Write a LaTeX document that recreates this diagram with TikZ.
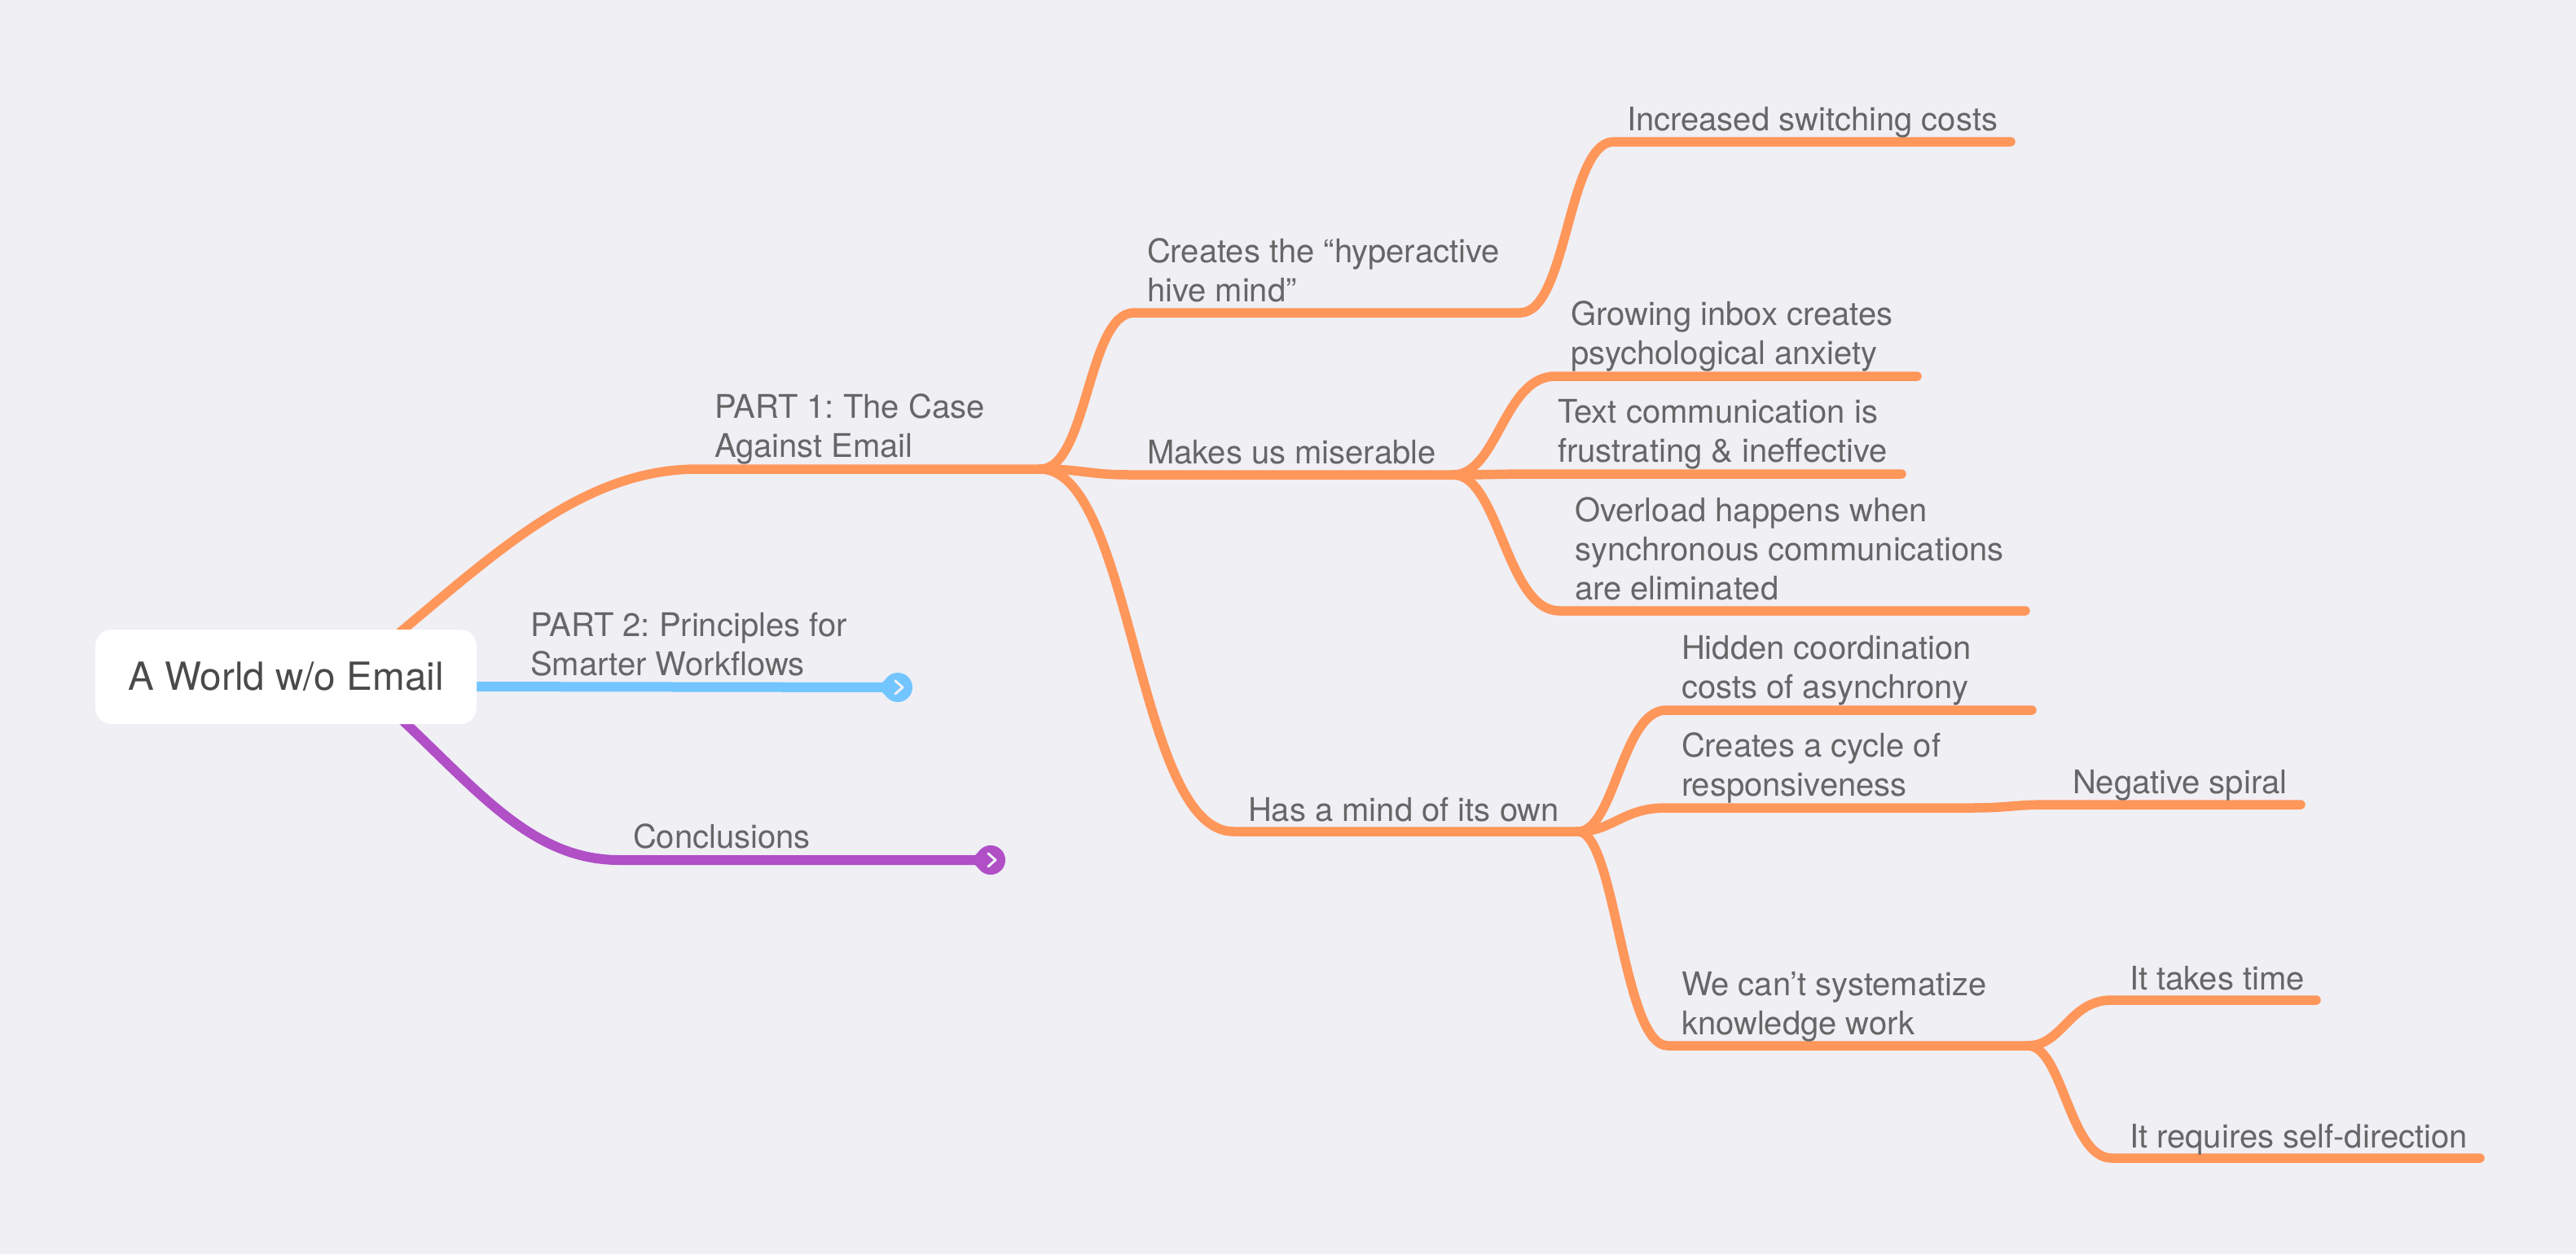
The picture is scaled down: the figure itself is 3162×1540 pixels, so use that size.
\documentclass[tikz,border=0pt]{standalone}
\usepackage{fontspec}
\setmainfont{TeX Gyre Heros}
\definecolor{bgc}{HTML}{EFEFF4}
\definecolor{orangeb}{HTML}{FF965A}
\definecolor{blueb}{HTML}{73C5FF}
\definecolor{purpleb}{HTML}{B04FC6}
\definecolor{topictext}{HTML}{666666}
\definecolor{roottext}{HTML}{4A4A4A}
\tikzset{
  topic/.style={inner sep=0pt,outer sep=0pt,anchor=base west,align=left,text=topictext,font=\fontsize{40}{48}\selectfont\frenchspacing},
  rootbox/.style={fill=white,rounded corners=20pt,minimum width=468pt,minimum height=116pt,inner sep=0pt,text=roottext,font=\fontsize{47.6}{56}\selectfont},
  br/.style={draw=orangeb,line width=11.5pt,line cap=round,line join=round},
  bb/.style={draw=blueb,line width=12pt},
  bp/.style={draw=purpleb,line width=12pt},
  marker/.style={circle,minimum size=36pt,inner sep=0pt,outer sep=0pt},
  chev/.style={draw=bgc,line width=3pt,line cap=round,line join=round},
}
\begin{document}
\begin{tikzpicture}[x=1pt,y=-1pt]
\path[fill=bgc,use as bounding box] (0,0) rectangle (3162,1540);
% branch geometry
\coordinate (rootO) at (400,850);
\coordinate (rootB) at (560,843);
\coordinate (rootP) at (420,820);
\coordinate (p1s) at (856,576);    \coordinate (p1e) at (1277,576);
\coordinate (hs) at (1392,384);    \coordinate (he) at (1866,384);
\coordinate (iss) at (1981,174);   \coordinate (ise) at (2468,174);
\coordinate (ms) at (1387,583);    \coordinate (me) at (1784,583);
\coordinate (gs) at (1909,462);    \coordinate (ge) at (2353,462);
\coordinate (ts) at (1890,582);    \coordinate (te) at (2334,582);
\coordinate (os) at (1914,750);    \coordinate (oe) at (2486,750);
\coordinate (as) at (1514,1021);   \coordinate (ae) at (1937,1021);
\coordinate (cs) at (2045,872);    \coordinate (ce) at (2494,872);
\coordinate (ys) at (2045,992);    \coordinate (ye) at (2419,992);
\coordinate (ns) at (2517,988);    \coordinate (ne) at (2824,988);
\coordinate (ws) at (2047,1284);   \coordinate (we) at (2489,1284);
\coordinate (tks) at (2592,1228);  \coordinate (tke) at (2843,1228);
\coordinate (rqs) at (2592,1422);  \coordinate (rqe) at (3044,1422);
\coordinate (cos) at (760,1056);
% markers
\node[marker,fill=blueb] (m2) at (1102,844) {};
\node[marker,fill=purpleb] (m3) at (1216,1056) {};
\fill[blueb] (1077,844) -- (1090,831) -- (1090,857) -- cycle;
\fill[purpleb] (1191,1056) -- (1204,1043) -- (1204,1069) -- cycle;
\draw[chev] ([shift={(-3,-8)}]m2.center) -- ([shift={(6,0)}]m2.center) -- ([shift={(-3,8)}]m2.center);
\draw[chev] ([shift={(-3,-8)}]m3.center) -- ([shift={(6,0)}]m3.center) -- ([shift={(-3,8)}]m3.center);
% connectors
\draw[br] (rootO) .. controls (570,720) and (690,576) .. (p1s) -- (p1e);
\draw[br] (p1e) .. controls (1335,576) and (1335,384) .. (hs) -- (he);
\draw[br] (he) .. controls (1924,384) and (1924,174) .. (iss) -- (ise);
\draw[br] (p1e) .. controls (1330,576) and (1335,583) .. (ms) -- (me);
\draw[br] (me) .. controls (1838,583) and (1846,462) .. (gs) -- (ge);
\draw[br] (me) .. controls (1825,583) and (1840,582) .. (ts) -- (te);
\draw[br] (me) .. controls (1840,583) and (1849,750) .. (os) -- (oe);
\draw[br] (p1e) .. controls (1390,576) and (1395,1021) .. (as) -- (ae);
\draw[br] (ae) .. controls (1982,1021) and (1991,872) .. (cs) -- (ce);
\draw[br] (ae) .. controls (1980,1021) and (1991,992) .. (ys) -- (ye) .. controls (2468,992) and (2468,988) .. (ns) -- (ne);
\draw[br] (ae) .. controls (1983,1021) and (1992,1284) .. (ws) -- (we);
\draw[br] (we) .. controls (2532,1284) and (2540,1228) .. (tks) -- (tke);
\draw[br] (we) .. controls (2532,1284) and (2540,1422) .. (rqs) -- (rqe);
\draw[bb] (rootB) -- (m2);
\draw[bp] (rootP) .. controls (560,930) and (630,1056) .. (cos) -- (m3);
% labels (anchored at the last line's baseline)
\node[topic] (tp1) at (877,561) {PART 1: The Case\\Against Email};
\node[topic] (tp2) at (651,829) {PART 2: Principles for\\Smarter Workflows};
\node[topic] (tco) at (777,1041) {Conclusions};
\node[topic] (the) at (1408,370) {Creates the “hyperactive\\hive mind”};
\node[topic] (tis) at (1997,160) {Increased switching costs};
\node[topic] (tma) at (1408,569) {Makes us miserable};
\node[topic] (tgr) at (1928,447) {Growing inbox creates\\psychological anxiety};
\node[topic] (ttx) at (1912,567) {Text communication is\\frustrating \& ineffective};
\node[topic] (tov) at (1933,736) {Overload happens when\\synchronous communications\\are eliminated};
\node[topic] (tha) at (1532,1008) {Has a mind of its own};
\node[topic] (thi) at (2064,857) {Hidden coordination\\costs of asynchrony};
\node[topic] (tcy) at (2064,977) {Creates a cycle of\\responsiveness};
\node[topic] (tne) at (2544,974) {Negative spiral};
\node[topic] (twe) at (2064,1270) {We can’t systematize\\knowledge work};
\node[topic] (ttk) at (2614,1215) {It takes time};
\node[topic] (trq) at (2614,1409) {It requires self-direction};
% root
\node[rootbox] (root) at (351,831) {A World w/o Email};
\end{tikzpicture}
\end{document}
